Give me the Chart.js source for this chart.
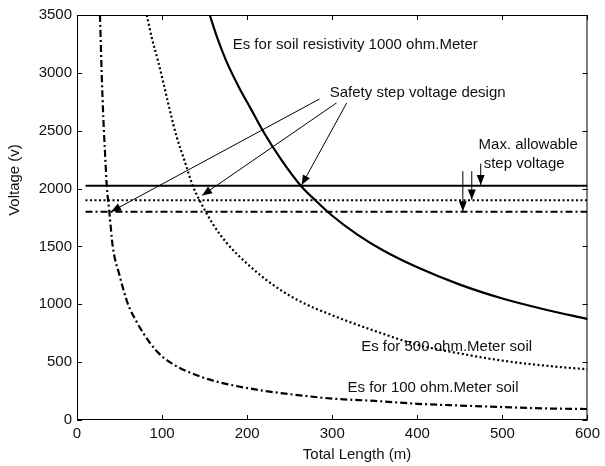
<!DOCTYPE html>
<html>
<head>
<meta charset="utf-8">
<script src="https://cdn.jsdelivr.net/npm/chart.js@4.4.1/dist/chart.umd.min.js"></script>
<style>
    body { margin: 0; background: #fff; }
    canvas { display: block; }
</style>
</head>
<body>
<canvas id="chart" width="605" height="466"></canvas>
<script>
/* ---- data ---- */
// Es for soil resistivity 1000 ohm.Meter (solid)
const len1000 = [156, 165, 175, 190, 205, 220, 240, 263, 280, 300, 330, 360, 400, 450, 500, 550, 600];
const es1000 = [3500, 3300, 3110, 2880, 2680, 2480, 2250, 2025, 1900, 1765, 1600, 1465, 1320, 1170, 1050, 955, 872];

// Es for 500 ohm.Meter soil (dotted)
const len500 = [82, 88, 95, 102, 109, 117, 126, 136, 144, 160, 176, 200, 230, 261, 300, 350, 400, 450, 500, 550, 600];
const es500 = [3500, 3300, 3110, 2900, 2680, 2450, 2250, 2025, 1900, 1690, 1530, 1350, 1170, 1030, 905, 770, 650, 575, 513, 470, 438];

// Es for 100 ohm.Meter soil (dash-dot)
const len100 = [27, 29, 31, 33, 35, 38, 42, 50, 60, 70, 78, 93, 109, 136, 160, 183, 222, 254, 300, 350, 400, 450, 500, 550, 600];
const es100 = [3500, 3000, 2600, 2300, 2025, 1800, 1500, 1250, 1000, 850, 750, 600, 500, 400, 340, 300, 250, 220, 185, 165, 140, 125, 112, 100, 95];

// max. allowable step voltage lines
const limitSpan = [10, 600];
const limit1000 = 2025;
const limit500 = 1900;
const limit100 = 1800;

const xTicks = [0, 100, 200, 300, 400, 500, 600];
const yTicks = [0, 500, 1000, 1500, 2000, 2500, 3000, 3500];

/* ---- annotations (data units) ---- */
const FAMILY = "'Liberation Sans', Arial, sans-serif";
const FONT = '15px ' + FAMILY;
const labels = [
    { text: 'Es for soil resistivity 1000 ohm.Meter', x: 183, y: 3241 },
    { text: 'Safety step voltage design', x: 297, y: 2826 },
    { text: 'Max. allowable', x: 472, y: 2377 },
    { text: 'step voltage', x: 478, y: 2215 },
    { text: 'Es for 500 ohm.Meter soil', x: 334, y: 631 },
    { text: 'Es for 100 ohm.Meter soil', x: 318, y: 277 }
];
const arrows = [
    { from: [285, 2774], to: [40, 1800] },
    { from: [305, 2740], to: [147, 1940] },
    { from: [317, 2740], to: [264, 2030] },
    { from: [453.5, 2150], to: [453.5, 1805] },
    { from: [464, 2150], to: [464, 1905] },
    { from: [474.5, 2215], to: [474.5, 2030] }
];

function pts(xs, ys) {
    return xs.map((x, i) => ({ x, y: ys[i] }));
}

const framePlugin = {
    id: 'frame',
    afterDraw(chart) {
        const { ctx, chartArea: a, scales } = chart;
        const xs = scales.x, ys = scales.y;
        ctx.save();
        ctx.strokeStyle = '#000';
        ctx.lineWidth = 1;
        ctx.strokeRect(a.left + 0.5, a.top + 0.5, a.right - a.left - 1, a.bottom - a.top - 1);
        ctx.beginPath();
        xTicks.forEach(v => {
            const px = Math.round(xs.getPixelForValue(v)) + 0.5;
            ctx.moveTo(px, a.bottom); ctx.lineTo(px, a.bottom - 5);
            ctx.moveTo(px, a.top); ctx.lineTo(px, a.top + 5);
        });
        yTicks.forEach(v => {
            const py = Math.round(ys.getPixelForValue(v)) + 0.5;
            ctx.moveTo(a.left, py); ctx.lineTo(a.left + 5, py);
            ctx.moveTo(a.right, py); ctx.lineTo(a.right - 5, py);
        });
        ctx.stroke();

        // arrows
        ctx.fillStyle = '#000';
        arrows.forEach(ar => {
            const x1 = xs.getPixelForValue(ar.from[0]), y1 = ys.getPixelForValue(ar.from[1]);
            const x2 = xs.getPixelForValue(ar.to[0]), y2 = ys.getPixelForValue(ar.to[1]);
            const ang = Math.atan2(y2 - y1, x2 - x1);
            ctx.beginPath();
            ctx.moveTo(x1, y1); ctx.lineTo(x2, y2);
            ctx.stroke();
            const hl = 10, hw = 4;
            ctx.beginPath();
            ctx.moveTo(x2, y2);
            ctx.lineTo(x2 - hl * Math.cos(ang) + hw * Math.sin(ang), y2 - hl * Math.sin(ang) - hw * Math.cos(ang));
            ctx.lineTo(x2 - hl * Math.cos(ang) - hw * Math.sin(ang), y2 - hl * Math.sin(ang) + hw * Math.cos(ang));
            ctx.closePath();
            ctx.fill();
        });

        // text
        ctx.font = FONT;
        ctx.fillStyle = '#111';
        ctx.textAlign = 'left';
        ctx.textBaseline = 'middle';
        labels.forEach(l => {
            ctx.fillText(l.text, xs.getPixelForValue(l.x), ys.getPixelForValue(l.y));
        });

        // axis titles
        ctx.textAlign = 'center';
        ctx.fillText('Total Length (m)', 357, 455);
        ctx.translate(15, 180);
        ctx.rotate(-Math.PI / 2);
        ctx.fillText('Voltage (v)', 0, 0);
        ctx.restore();
    }
};

const curve = { showLine: true, borderColor: '#000', borderWidth: 2.2, pointRadius: 0, cubicInterpolationMode: 'monotone' };
const flat = { showLine: true, borderColor: '#000', borderWidth: 2, pointRadius: 0 };

new Chart(document.getElementById('chart'), {
    type: 'scatter',
    data: {
        datasets: [
            { ...curve, label: 'Es 1000', data: pts(len1000, es1000) },
            { ...curve, label: 'Es 500', data: pts(len500, es500), borderDash: [2, 2.5] },
            { ...curve, label: 'Es 100', data: pts(len100, es100), borderDash: [7, 3, 2, 3] },
            { ...flat, label: 'Max 1000', data: pts(limitSpan, [limit1000, limit1000]) },
            { ...flat, label: 'Max 500', data: pts(limitSpan, [limit500, limit500]), borderDash: [2, 2.5] },
            { ...flat, label: 'Max 100', data: pts(limitSpan, [limit100, limit100]), borderDash: [7, 3, 2, 3] }
        ]
    },
    options: {
        responsive: false,
        animation: false,
        layout: { padding: { top: 15, right: 16, left: 0, bottom: 0 } },
        plugins: {
            legend: { display: false },
            tooltip: { enabled: false }
        },
        scales: {
            x: {
                type: 'linear', min: 0, max: 600,
                afterFit: s => { s.height = 46; },
                afterBuildTicks: s => { s.ticks = xTicks.map(v => ({ value: v })); },
                ticks: { color: '#111', font: { size: 15, family: FAMILY }, padding: 5, maxRotation: 0, callback: v => String(v) },
                grid: { display: false, drawTicks: false },
                border: { display: false }
            },
            y: {
                type: 'linear', min: 0, max: 3500,
                afterFit: s => { s.width = 77; },
                afterBuildTicks: s => { s.ticks = yTicks.map(v => ({ value: v })); },
                ticks: { color: '#111', font: { size: 15, family: FAMILY }, padding: 5, callback: v => String(v) },
                grid: { display: false, drawTicks: false },
                border: { display: false }
            }
        }
    },
    plugins: [framePlugin]
});
</script>
</body>
</html>
